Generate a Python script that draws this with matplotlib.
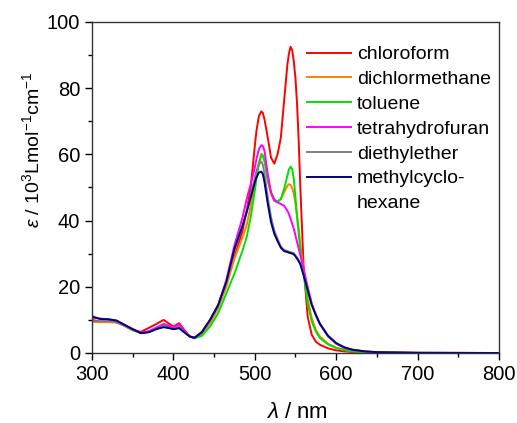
import numpy as np
import matplotlib.pyplot as plt
from matplotlib import rcParams
from matplotlib.lines import Line2D
from matplotlib.ticker import MultipleLocator

params = {'font.family': 'sans-serif',
          'font.sans-serif': ['Liberation Sans', 'DejaVu Sans'],
          'mathtext.fontset': 'custom',
          'mathtext.rm': 'Liberation Sans',
          'mathtext.it': 'Liberation Sans:italic',
          'font.size': 14.5}
rcParams.update(params)

###############################################################################
# Data (absorption spectra, epsilon in 10^3 L/mol/cm)
###############################################################################
wavelength = [300, 310, 320, 330, 340, 350, 360, 370, 380, 388, 395, 400, 407,
              412, 420, 426, 435, 445, 455, 465, 475, 485, 490, 495, 500, 502,
              505, 508, 510, 512, 516, 520, 524, 528, 532, 536, 540, 542, 544,
              546, 548, 550, 552, 554, 556, 560, 565, 570, 575, 580, 590, 600,
              610, 620, 635, 650, 700, 800]

chloroform = [10.0, 9.5, 9.5, 9.3, 8.2, 6.9, 6.4, 7.6, 8.9, 10.0, 8.8, 8.0, 9.0,
              7.4, 5.0, 4.6, 6.0, 9.5, 14.0, 21.0, 29.0, 37.0, 43.0, 50.0, 62.5, 67.0,
              71.5, 73.0, 72.5, 70.5, 65.0, 59.0, 57.2, 60.0, 65.0, 76.0, 87.0, 90.5, 92.5,
              91.5, 88.0, 83.0, 75.0, 64.0, 50.0, 26.0, 11.0, 5.5, 3.4, 2.5, 1.4, 0.8,
              0.5, 0.3, 0.15, 0.08, 0.02, 0.0]

dichlormethane = [9.4, 9.3, 9.3, 9.2, 8.2, 6.9, 6.0, 6.4, 7.5, 8.2, 7.8, 7.4, 8.0,
                  6.8, 5.0, 4.5, 5.8, 9.0, 13.5, 20.0, 28.5, 35.0, 38.5, 44.5, 51.0, 54.0,
                  57.5, 60.2, 59.8, 58.0, 52.0, 48.0, 46.0, 45.8, 46.5, 48.5, 50.5, 51.0, 50.8,
                  49.8, 48.0, 45.0, 41.5, 37.5, 33.0, 25.0, 16.5, 10.5, 7.0, 5.0, 2.8, 1.6,
                  0.9, 0.5, 0.25, 0.12, 0.03, 0.0]

toluene = [10.8, 10.4, 10.2, 9.8, 8.4, 7.0, 6.0, 6.4, 7.6, 8.2, 7.8, 7.4, 7.8,
           6.8, 5.0, 4.4, 5.2, 8.0, 12.0, 18.0, 24.0, 31.0, 35.0, 41.0, 49.0, 52.5,
           57.0, 59.8, 59.5, 58.0, 52.5, 48.5, 46.5, 45.7, 46.5, 49.5, 53.5, 55.5, 56.3,
           55.5, 52.5, 47.0, 41.0, 36.0, 31.0, 24.0, 15.0, 9.5, 6.5, 4.5, 2.6, 1.5,
           0.9, 0.5, 0.25, 0.12, 0.03, 0.0]

tetrahydrofuran = [11.2, 10.2, 10.0, 9.7, 8.5, 7.2, 6.2, 6.6, 7.8, 8.8, 8.2, 7.8, 8.6,
                   7.0, 5.0, 4.6, 6.4, 10.0, 14.5, 22.0, 32.5, 41.0, 46.5, 51.0, 56.0, 58.5,
                   61.5, 62.8, 62.5, 61.0, 54.0, 48.5, 46.0, 45.5, 45.0, 44.5, 43.0, 42.0, 40.5,
                   39.0, 37.5, 35.5, 33.5, 31.5, 29.5, 25.5, 20.0, 15.0, 11.5, 8.8, 5.0, 2.8,
                   1.5, 0.9, 0.45, 0.22, 0.05, 0.0]

diethylether = [9.6, 9.6, 9.6, 9.3, 8.3, 7.0, 6.0, 6.3, 7.3, 7.9, 7.6, 7.3, 7.6,
                6.6, 5.0, 4.6, 6.2, 9.8, 14.3, 21.2, 31.0, 38.5, 42.8, 47.5, 53.0, 55.0,
                57.0, 57.8, 56.8, 54.0, 47.0, 41.0, 37.0, 34.5, 32.2, 31.1, 30.8, 30.6, 30.5,
                30.3, 30.1, 29.5, 28.8, 28.0, 27.0, 23.8, 19.2, 14.7, 11.6, 8.9, 5.2, 3.0,
                1.7, 1.0, 0.5, 0.25, 0.05, 0.0]

methylcyclohexane = [10.9, 10.3, 10.2, 9.8, 8.5, 7.2, 6.0, 6.3, 7.3, 7.8, 7.5, 7.2, 7.5,
                     6.5, 5.0, 4.6, 6.3, 10.0, 14.5, 21.5, 31.5, 38.5, 42.5, 47.0, 51.5, 53.0,
                     54.5, 54.8, 54.0, 51.5, 45.0, 39.5, 36.0, 33.8, 31.8, 30.8, 30.5, 30.3, 30.2,
                     30.0, 29.8, 29.2, 28.5, 27.7, 26.8, 23.5, 19.0, 14.5, 11.5, 8.8, 5.2, 3.0,
                     1.7, 1.0, 0.5, 0.25, 0.05, 0.0]

SERIES = [('chloroform', chloroform, '#FF0000'),
          ('dichlormethane', dichlormethane, '#FF8000'),
          ('toluene', toluene, '#00E000'),
          ('tetrahydrofuran', tetrahydrofuran, '#FF00FF'),
          ('diethylether', diethylether, '#808080'),
          ('methylcyclo-', methylcyclohexane, '#000080')]

###############################################################################
# Plot
###############################################################################
fig, ax = plt.subplots(1, 1, figsize=(5.17, 4.23), dpi=100)

for label, values, color in SERIES:
    ax.plot(wavelength, values, color=color, linewidth=1.4, label=label)

ax.set_xlim(300, 800)
ax.set_ylim(0, 100)
ax.xaxis.set_major_locator(MultipleLocator(100))
ax.xaxis.set_minor_locator(MultipleLocator(50))
ax.yaxis.set_major_locator(MultipleLocator(20))
ax.yaxis.set_minor_locator(MultipleLocator(10))
ax.tick_params(which='major', direction='out', length=5, width=1, top=False, right=False)
ax.tick_params(which='minor', direction='out', length=3, width=1, top=False, right=False)
for spine in ax.spines.values():
    spine.set_linewidth(1)
    spine.set_color('#333333')

ax.set_xlabel(r'$\lambda$ / nm', fontsize=16)
ax.set_ylabel(r'$\varepsilon$ / 10$^3$Lmol$^{-1}$cm$^{-1}$', fontsize=14)
ax.xaxis.set_label_coords(0.504, -0.148)
ax.yaxis.set_label_coords(-0.12, 0.613)

# the wrapped "hexane" goes on its own row with an empty handle, so the blue
# line stays level with "methylcyclo-" as in the original
handles, labels = ax.get_legend_handles_labels()
handles.append(Line2D([], [], color='none'))
labels.append('hexane')
ax.legend(handles, labels, loc='upper left', bbox_to_anchor=(0.528, 0.928),
          frameon=False, borderaxespad=0, borderpad=0, handlelength=2.25,
          handletextpad=0.32, labelspacing=0.37, fontsize=14)

plt.subplots_adjust(left=0.178, right=0.965, top=0.948, bottom=0.1655)
plt.savefig('out.png', dpi=100)
plt.close()
